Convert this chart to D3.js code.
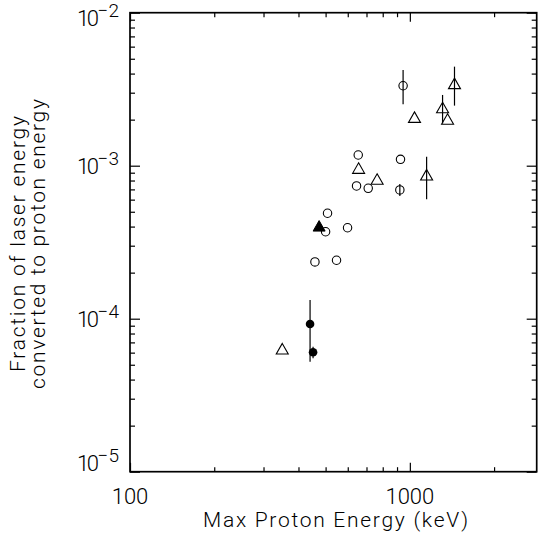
<!DOCTYPE html>
<html>
<head>
<meta charset="utf-8">
<script src="https://cdn.jsdelivr.net/npm/d3@7"></script>
<style>
  html, body { margin: 0; padding: 0; background: #fff; }
  svg { display: block; }
  text { font-family: Roboto, "Liberation Sans", sans-serif; font-weight: 300; fill: #000; }
</style>
</head>
<body>
<svg id="chart" width="545" height="535"></svg>
<script>
// ---- data ----
const xMajorTicks = [100, 1000];
const xMinorTicks = [200, 300, 400, 500, 600, 700, 800, 900, 2000];
const yMajorTicks = [1e-5, 1e-4, 1e-3, 1e-2];
const yMinorTicks = [2e-5,3e-5,4e-5,5e-5,6e-5,7e-5,8e-5,9e-5,
                     2e-4,3e-4,4e-4,5e-4,6e-4,7e-4,8e-4,9e-4,
                     2e-3,3e-3,4e-3,5e-3,6e-3,7e-3,8e-3,9e-3];
const yTickExps = ["−5", "−4", "−3", "−2"];

// open circles
const ocEnergy = [946, 654, 926, 645, 710, 921, 508, 500, 599, 458, 547];
const ocFrac   = [3.33e-3, 1.175e-3, 1.10e-3, 7.37e-4, 7.12e-4, 6.94e-4, 4.89e-4, 3.70e-4, 3.93e-4, 2.35e-4, 2.41e-4];
const ocLo     = [2.52e-3, null, null, null, null, 6.34e-4, null, null, null, null, null];
const ocHi     = [4.22e-3, null, null, null, null, 7.59e-4, null, null, null, null, null];

// open triangles
const otEnergy = [1444, 1039, 1309, 1364, 656, 764, 1148, 350];
const otFrac   = [3.44e-3, 2.07e-3, 2.39e-3, 2.01e-3, 9.61e-4, 8.15e-4, 8.70e-4, 6.34e-5];
const otLo     = [2.47e-3, null, 1.89e-3, null, null, null, 6.03e-4, null];
const otHi     = [4.44e-3, null, 2.90e-3, null, null, null, 1.146e-3, null];

// filled triangle
const ftEnergy = [474];
const ftFrac   = [4.03e-4];

// filled circles
const fcEnergy = [440, 451];
const fcFrac   = [9.23e-5, 6.03e-5];
const fcLo     = [5.24e-5, 5.51e-5];
const fcHi     = [1.325e-4, 6.56e-5];

// ---- layout ----
const L = 130, R = 536.7, T = 12.7, B = 471.7;
const svg = d3.select("#chart");
const x = d3.scaleLog().domain([100, 2840]).range([L, R]);
const y = d3.scaleLog().domain([1e-5, 1e-2]).range([B, T]);

function styleAxis(g) {
  g.select(".domain").remove();
  g.selectAll("line").attr("stroke", "#000").attr("stroke-width", 1.2);
  g.selectAll("text").remove();
}
// bottom
svg.append("g").attr("transform", `translate(0,${B})`)
  .call(d3.axisBottom(x).tickValues(xMajorTicks).tickSize(-9)).call(styleAxis);
svg.append("g").attr("transform", `translate(0,${B})`)
  .call(d3.axisBottom(x).tickValues(xMinorTicks).tickSize(-4.5)).call(styleAxis);
// top
svg.append("g").attr("transform", `translate(0,${T})`)
  .call(d3.axisTop(x).tickValues(xMajorTicks).tickSize(-9)).call(styleAxis);
svg.append("g").attr("transform", `translate(0,${T})`)
  .call(d3.axisTop(x).tickValues(xMinorTicks).tickSize(-4.5)).call(styleAxis);
// left
svg.append("g").attr("transform", `translate(${L},0)`)
  .call(d3.axisLeft(y).tickValues(yMajorTicks).tickSize(-10)).call(styleAxis);
svg.append("g").attr("transform", `translate(${L},0)`)
  .call(d3.axisLeft(y).tickValues(yMinorTicks).tickSize(-5)).call(styleAxis);
// right
svg.append("g").attr("transform", `translate(${R},0)`)
  .call(d3.axisRight(y).tickValues(yMajorTicks).tickSize(-10)).call(styleAxis);
svg.append("g").attr("transform", `translate(${R},0)`)
  .call(d3.axisRight(y).tickValues(yMinorTicks).tickSize(-5)).call(styleAxis);

// frame
svg.append("rect").attr("x", L).attr("y", T).attr("width", R - L).attr("height", B - T)
  .attr("fill", "none").attr("stroke", "#000").attr("stroke-width", 1.7);

// x tick labels
svg.append("g").selectAll("text").data(xMajorTicks).join("text")
  .attr("x", d => x(d)).attr("y", 503.5)
  .attr("text-anchor", "middle").attr("font-size", 22)
  .text(d => d3.format("d")(d));

// y tick labels with superscript exponent
svg.append("g").selectAll("text").data(yMajorTicks).join("text")
  .attr("text-anchor", "end").attr("font-size", 22)
  .attr("x", 119)
  .attr("y", d => Math.max(26, Math.min(471, y(d) + 8)))
  .each(function(d, i) {
    const t = d3.select(this);
    t.append("tspan").attr("textLength", 22).text("10");
    t.append("tspan").attr("dy", -9).attr("dx", 1).attr("font-size", 19).text(yTickExps[i]);
  });

// axis titles
svg.append("text").attr("x", 335.5).attr("y", 527).attr("text-anchor", "middle")
  .attr("font-size", 21).attr("textLength", 265).attr("lengthAdjust", "spacing")
  .text("Max Proton Energy (keV)");
svg.append("text").attr("transform", "translate(25,244) rotate(-90)").attr("text-anchor", "middle")
  .attr("font-size", 21).attr("textLength", 256).attr("lengthAdjust", "spacing")
  .text("Fraction of laser energy");
svg.append("text").attr("transform", "translate(45,244) rotate(-90)").attr("text-anchor", "middle")
  .attr("font-size", 21).attr("textLength", 290).attr("lengthAdjust", "spacing")
  .text("converted to proton energy");

// error bars
function errBars(E, F, lo, hi) {
  const d = E.map((e, i) => ({e, lo: lo[i], hi: hi[i]})).filter(o => o.lo != null);
  svg.append("g").selectAll("line").data(d).join("line")
    .attr("x1", o => x(o.e)).attr("x2", o => x(o.e))
    .attr("y1", o => y(o.lo)).attr("y2", o => y(o.hi))
    .attr("stroke", "#000").attr("stroke-width", 1.2);
}
errBars(ocEnergy, ocFrac, ocLo, ocHi);
errBars(otEnergy, otFrac, otLo, otHi);
errBars(fcEnergy, fcFrac, fcLo, fcHi);

const tri = "M0,-5.5L6,5L-6,5Z";
// open circles
svg.append("g").selectAll("circle").data(ocEnergy.map((e, i) => [e, ocFrac[i]])).join("circle")
  .attr("cx", d => x(d[0])).attr("cy", d => y(d[1])).attr("r", 4.2)
  .attr("fill", "none").attr("stroke", "#000").attr("stroke-width", 1.1);
// open triangles
svg.append("g").selectAll("path").data(otEnergy.map((e, i) => [e, otFrac[i]])).join("path")
  .attr("d", tri).attr("transform", d => `translate(${x(d[0])},${y(d[1])})`)
  .attr("fill", "none").attr("stroke", "#000").attr("stroke-width", 1.1);
// filled triangle
svg.append("g").selectAll("path").data(ftEnergy.map((e, i) => [e, ftFrac[i]])).join("path")
  .attr("d", tri).attr("transform", d => `translate(${x(d[0])},${y(d[1])})`)
  .attr("fill", "#000").attr("stroke", "#000").attr("stroke-width", 1);
// filled circles
svg.append("g").selectAll("circle").data(fcEnergy.map((e, i) => [e, fcFrac[i]])).join("circle")
  .attr("cx", d => x(d[0])).attr("cy", d => y(d[1])).attr("r", 4.3)
  .attr("fill", "#000");
</script>
</body>
</html>
